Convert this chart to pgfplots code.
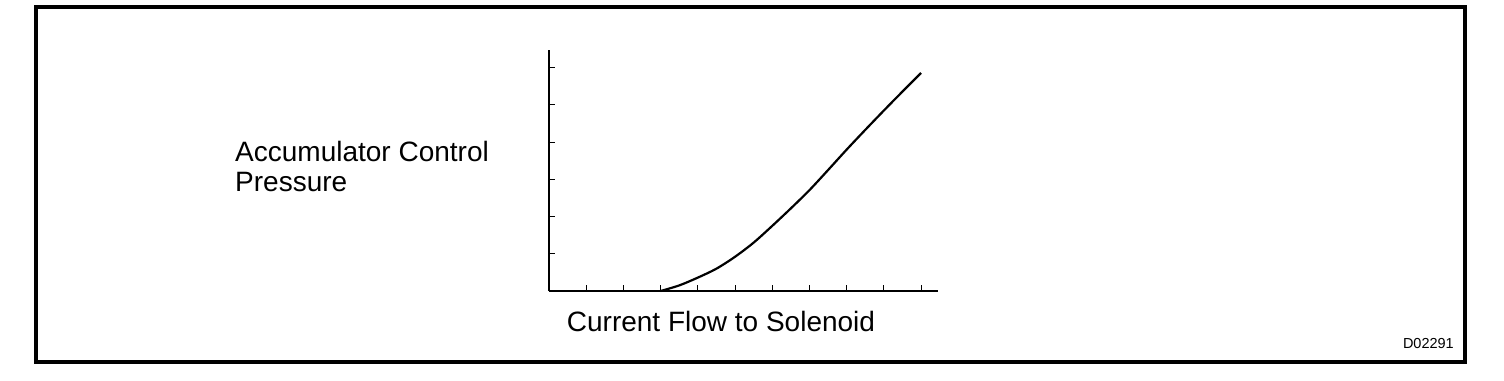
\documentclass[border=0pt]{standalone}
\usepackage{pgfplots}
\pgfplotsset{compat=1.18}
\usepackage{fontspec}
\setmainfont{Liberation Sans}
\begin{document}
\begin{tikzpicture}[x=1bp,y=1bp]
\path (0,0) rectangle (1504,380);
\draw[line width=4bp] (36,18.5) rectangle (1465,373);
\begin{axis}[
  at={(549bp,89bp)}, anchor=origin,
  x=37.2bp, y=37.2bp,
  xmin=0, xmax=10.46, ymin=0, ymax=6.48,
  axis x line=bottom, axis y line=left,
  axis line style={-, line width=1.4bp},
  xtick={1,...,10}, ytick={1,...,6},
  xticklabels={}, yticklabels={},
  tick align=inside,
  major tick length=6bp,
  every tick/.style={black, line width=1bp},
  clip=false,
]
\addplot[black, line width=2.2bp, smooth] coordinates {
  (3,0) (3.5,0.15) (4,0.36) (4.5,0.6) (5,0.92) (5.5,1.3) (6,1.75)
  (6.5,2.22) (7,2.71) (7.5,3.25) (8,3.8) (8.5,4.33) (9,4.85) (9.5,5.36) (10,5.86)
};
\end{axis}
\node[anchor=base west, inner sep=0, font=\fontsize{28bp}{30bp}\selectfont] at (235,218.3) {Accumulator Control};
\node[anchor=base west, inner sep=0, font=\fontsize{28bp}{30bp}\selectfont] at (235,188.3) {Pressure};
\node[anchor=base west, inner sep=0, font=\fontsize{28bp}{30bp}\selectfont] at (566.7,48.3) {Current Flow to Solenoid};
\node[anchor=base east, inner sep=0, font=\fontsize{14.5bp}{16bp}\selectfont] at (1454,31.7) {D02291};
\end{tikzpicture}
\end{document}
